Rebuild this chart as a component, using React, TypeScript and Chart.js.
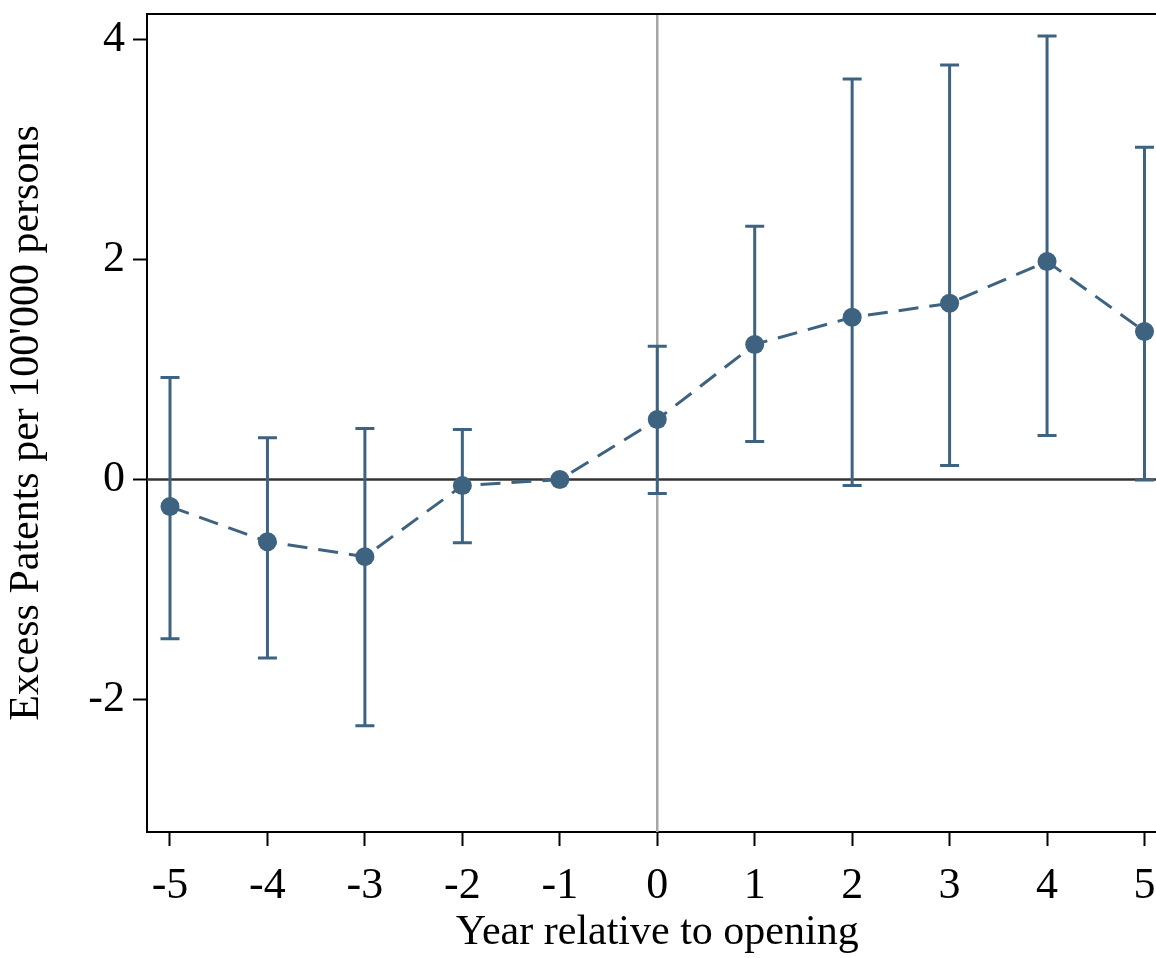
import React, { useEffect, useRef } from "react";
import { Chart, registerables } from "chart.js";

Chart.register(...registerables);

const years = [-5, -4, -3, -2, -1, 0, 1, 2, 3, 4, 5];
const estimates = [-0.245, -0.564, -0.7, -0.055, 0, 0.545, 1.227, 1.473, 1.6, 1.98, 1.345];
const upperCI = [0.927, 0.38, 0.464, 0.455, null, 1.21, 2.3, 3.636, 3.764, 4.027, 3.018];
const lowerCI = [-1.445, -1.62, -2.236, -0.573, null, -0.127, 0.345, -0.055, 0.127, 0.4, -0.005];
const xTicks = [-5, -4, -3, -2, -1, 0, 1, 2, 3, 4, 5];
const yTicks = [-2, 0, 2, 4];

const SERIES = "#3e6380";
const FONT = "'Liberation Serif', 'DejaVu Serif', serif";

const framePlugin = {
  id: "framePlugin",
  beforeDatasetsDraw(chart: any) {
    const { ctx, chartArea, scales } = chart;
    const xs = scales.x;
    const ys = scales.y;
    ctx.save();
    const x0 = xs.getPixelForValue(0);
    ctx.strokeStyle = "#a6a6a6";
    ctx.lineWidth = 2.5;
    ctx.beginPath();
    ctx.moveTo(x0, chartArea.top);
    ctx.lineTo(x0, chartArea.bottom);
    ctx.stroke();
    const y0 = ys.getPixelForValue(0);
    ctx.strokeStyle = "#333333";
    ctx.lineWidth = 2.5;
    ctx.beginPath();
    ctx.moveTo(chartArea.left, y0);
    ctx.lineTo(chartArea.right, y0);
    ctx.stroke();
    ctx.strokeStyle = SERIES;
    ctx.lineWidth = 3;
    ctx.lineCap = "butt";
    const cap = 9.5;
    years.forEach((yr, i) => {
      const hi = upperCI[i];
      const lo = lowerCI[i];
      if (hi === null || lo === null) return;
      const px = xs.getPixelForValue(yr);
      const pHi = ys.getPixelForValue(hi);
      const pLo = ys.getPixelForValue(lo);
      ctx.beginPath();
      ctx.moveTo(px, pHi);
      ctx.lineTo(px, pLo);
      ctx.moveTo(px - cap, pHi);
      ctx.lineTo(px + cap, pHi);
      ctx.moveTo(px - cap, pLo);
      ctx.lineTo(px + cap, pLo);
      ctx.stroke();
    });
    ctx.restore();
  },
  afterDraw(chart: any) {
    const { ctx, chartArea } = chart;
    ctx.save();
    ctx.strokeStyle = "#000";
    ctx.lineWidth = 2;
    ctx.beginPath();
    ctx.moveTo(chartArea.left - 1, chartArea.top);
    ctx.lineTo(chartArea.right, chartArea.top);
    ctx.stroke();
    ctx.restore();
  },
};

export default function App() {
  const ref = useRef<HTMLCanvasElement | null>(null);
  useEffect(() => {
    if (!ref.current) return;
    const chart = new Chart(ref.current, {
      type: "line",
      data: {
        datasets: [
          {
            data: years.map((x, i) => ({ x, y: estimates[i] })),
            borderColor: SERIES,
            backgroundColor: SERIES,
            borderWidth: 3,
            borderDash: [20, 11],
            pointRadius: 9.5,
            pointBorderWidth: 0,
            pointBackgroundColor: SERIES,
            fill: false,
            tension: 0,
          },
        ],
      },
      options: {
        responsive: false,
        animation: false,
        layout: { padding: { left: 0, top: 14, right: 3, bottom: 0 } },
        plugins: {
          legend: { display: false },
          tooltip: { enabled: false },
        },
        scales: {
          x: {
            type: "linear",
            min: -5.236,
            max: 5.236,
            afterFit: (s: any) => {
              s.height = 126;
              s.paddingLeft = 0;
              s.paddingRight = 0;
            },
            afterBuildTicks: (s: any) => {
              s.ticks = xTicks.map((v) => ({ value: v }));
            },
            grid: {
              drawOnChartArea: false,
              drawTicks: true,
              tickLength: 14,
              tickColor: "#000",
              tickWidth: 2,
            },
            border: { display: true, color: "#000", width: 2 },
            ticks: {
              color: "#000",
              padding: 14,
              maxRotation: 0,
              autoSkip: false,
              font: { family: FONT, size: 44 },
              callback: (v: any) => String(v),
            },
            title: {
              display: true,
              text: "Year relative to opening",
              color: "#000",
              font: { family: FONT, size: 42 },
              padding: { top: 0, bottom: 0 },
            },
          },
          y: {
            type: "linear",
            min: -3.2,
            max: 4.227,
            afterFit: (s: any) => {
              s.width = 147;
              s.paddingTop = 0;
              s.paddingBottom = 0;
            },
            afterBuildTicks: (s: any) => {
              s.ticks = yTicks.map((v) => ({ value: v }));
            },
            grid: {
              drawOnChartArea: false,
              drawTicks: true,
              tickLength: 14,
              tickColor: "#000",
              tickWidth: 2,
            },
            border: { display: true, color: "#000", width: 2 },
            ticks: {
              color: "#000",
              padding: 8,
              font: { family: FONT, size: 44 },
              callback: (v: any) => String(v),
            },
            title: {
              display: true,
              text: "Excess Patents per 100'000 persons",
              color: "#000",
              font: { family: FONT, size: 42 },
              padding: { top: 2, bottom: 0 },
            },
          },
        },
      },
      plugins: [framePlugin],
    });
    return () => chart.destroy();
  }, []);
  return (
    <div
      style={{
        position: "absolute",
        left: 0,
        top: 0,
        width: 1156,
        height: 958,
        overflow: "hidden",
        background: "#fff",
      }}
    >
      <canvas ref={ref} width={1177} height={958} style={{ display: "block" }} />
    </div>
  );
}
